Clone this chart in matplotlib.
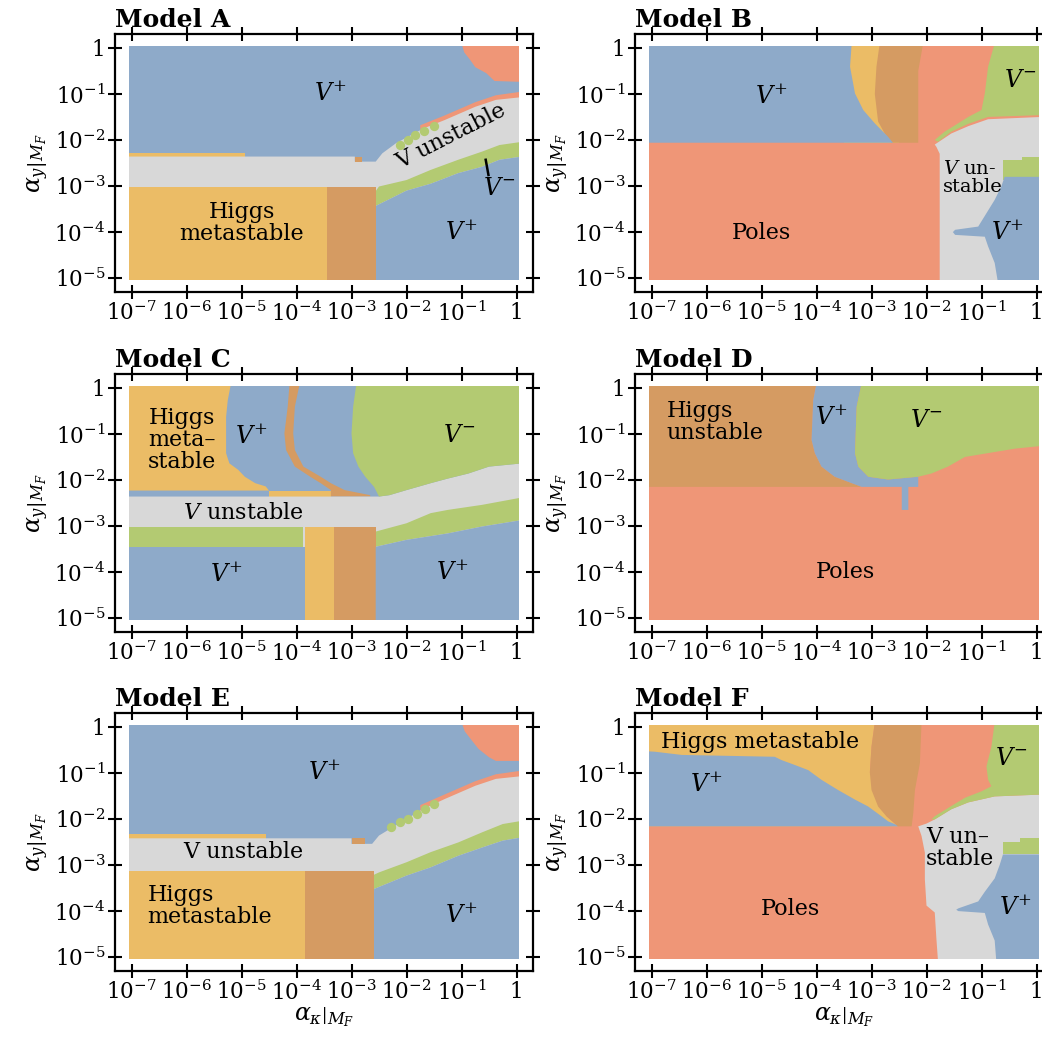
import numpy as np
import matplotlib.pyplot as plt
from matplotlib import ticker
from matplotlib.patches import Rectangle

plt.rcParams['font.family'] = 'DejaVu Serif'
plt.rcParams['mathtext.fontset'] = 'dejavuserif'

# phase colours
col = {
    'blue': '#8eaac9',
    'yellow': '#ebbc66',
    'brown': '#d59b62',
    'salmon': '#ef9677',
    'green': '#b3ca72',
    'grey': '#d8d8d8',
}

# region outlines, as (log10 alpha_kappa, log10 alpha_y)
FULL = [(-7.1, 0.1), (0.1, 0.1), (0.1, -5.1), (-7.1, -5.1)]

# ---- Model A
a_poles_top = [(-1.0, 0.1), (-0.95, -0.1), (-0.85, -0.25), (-0.75, -0.42), (-0.55, -0.55),
               (-0.4, -0.72), (0.1, -0.74), (0.1, 0.1)]
a_poles_strip = [(-1.75, -1.68), (-1.31, -1.47), (-0.75, -1.18), (-0.375, -1.03), (0.1, -0.95),
                 (0.1, -1.2), (-1.75, -1.9)]
a_higgs_strip = [(-7.1, -2.28), (-4.94, -2.28), (-4.94, -2.4), (-7.1, -2.4)]
a_unstable = [(-7.1, -2.36), (-2.94, -2.36), (-2.94, -2.47), (-2.56, -2.47), (-2.44, -2.29),
              (-2.19, -2.07), (-1.69, -1.75), (-1.31, -1.57), (-0.75, -1.28), (-0.375, -1.13),
              (0.1, -1.07), (0.1, -3.5), (-7.1, -3.5)]
a_brown_bit = [(-2.94, -2.36), (-2.81, -2.36), (-2.81, -2.47), (-2.94, -2.47)]
a_vminus = [(-2.59, -3.16), (-2.5, -3.01), (-2.0, -2.87), (-1.56, -2.65), (-1.06, -2.43),
            (-0.62, -2.25), (-0.31, -2.11), (0.1, -2.04), (0.1, -2.36), (-0.31, -2.43),
            (-0.62, -2.58), (-1.06, -2.72), (-1.56, -2.95), (-2.0, -3.1), (-2.59, -3.45)]
a_vplus_low = [(-2.59, -3.45), (-2.0, -3.1), (-1.56, -2.95), (-1.06, -2.72), (-0.62, -2.58),
               (-0.31, -2.43), (0.1, -2.36), (0.1, -5.1), (-2.56, -5.1)]
a_meta = [(-7.1, -3.03), (-3.44, -3.03), (-3.44, -5.1), (-7.1, -5.1)]
a_meta_dark = [(-3.44, -3.03), (-2.56, -3.03), (-2.56, -5.1), (-3.44, -5.1)]
a_dots_x = [-2.125, -1.97, -1.84, -1.69, -1.5]
a_dots_y = [-2.11, -2.0, -1.89, -1.8, -1.7]

# ---- Model B
b_meta = [(-3.5, 0.1), (-2.5, 0.1), (-2.5, -2.06), (-3.5, -2.06)]
b_meta_dark = [(-2.85, 0.1), (-2.06, 0.1), (-2.15, -0.5), (-2.15, -2.06), (-2.64, -2.06),
               (-2.76, -1.86), (-2.88, -1.6), (-2.94, -1.0), (-2.91, -0.41)]
b_vplus = [(-7.1, 0.1), (-3.36, 0.1), (-3.39, -0.41), (-3.30, -0.99), (-3.15, -1.35),
           (-2.94, -1.64), (-2.70, -1.93), (-2.61, -2.06), (-7.1, -2.06)]
b_unstable = [(-1.85, -2.1), (-1.55, -1.86), (-1.24, -1.7), (-0.88, -1.55), (0.1, -1.5),
              (0.1, -5.1), (-1.76, -5.1), (-1.76, -2.3), (-1.82, -2.15)]
b_vminus = [(-0.76, 0.1), (0.1, 0.1), (0.1, -1.46), (-0.88, -1.50), (-1.24, -1.65),
            (-1.55, -1.82), (-1.79, -2.04), (-1.85, -2.0), (-1.67, -1.82), (-1.48, -1.68),
            (-1.24, -1.50), (-1.0, -1.35), (-0.94, -0.99), (-0.88, -0.41)]
b_vminus_low = [(-0.61, -2.43), (-0.27, -2.43), (-0.27, -2.36), (0.1, -2.36), (0.1, -2.87),
                (-0.61, -2.87)]
b_vplus_low = [(-0.58, -2.80), (0.1, -2.80), (0.1, -5.1), (-0.70, -5.1), (-0.76, -4.67),
               (-0.88, -4.31), (-0.94, -4.10), (-1.48, -4.06), (-1.52, -4.0), (-1.48, -3.95),
               (-1.06, -3.88), (-0.91, -3.59), (-0.76, -3.30), (-0.64, -3.01)]

# ---- Model C
c_meta = [(-7.1, 0.1), (-5.19, 0.1), (-5.25, -0.27), (-5.28, -0.63), (-5.28, -1.42),
          (-5.22, -1.64), (-5.06, -1.78), (-4.94, -1.93), (-4.75, -2.07), (-4.56, -2.14),
          (-4.5, -2.23), (-7.1, -2.23)]
c_meta_strip = [(-4.5, -2.23), (-3.375, -2.23), (-3.375, -2.36), (-4.5, -2.36)]
c_meta_dark = [(-4.125, 0.1), (-4.16, -0.41), (-4.22, -0.99), (-4.19, -1.35), (-4.03, -1.71),
               (-3.75, -1.93), (-3.56, -2.07), (-3.375, -2.22), (-3.375, -2.36), (-2.66, -2.36),
               (-2.66, -2.33), (-3.125, -2.22), (-3.375, -2.07), (-3.56, -1.93),
               (-3.875, -1.71), (-4.03, -1.35), (-4.06, -0.99), (-4.03, -0.41), (-3.94, 0.1)]
c_unstable = [(-7.1, -2.36), (-2.5, -2.36), (-2.31, -2.33), (-2.0, -2.22), (-1.56, -2.07),
              (-1.25, -1.97), (-0.875, -1.86), (-0.5, -1.71), (0.1, -1.64), (0.1, -3.5),
              (-7.1, -3.5)]
c_vminus = [(-2.91, 0.1), (0.1, 0.1), (0.1, -1.64), (-0.5, -1.71), (-0.875, -1.86),
            (-1.25, -1.97), (-1.56, -2.07), (-2.0, -2.22), (-2.31, -2.33), (-2.5, -2.36),
            (-2.59, -2.15), (-2.75, -1.93), (-2.875, -1.71), (-2.97, -1.42), (-3.0, -0.99),
            (-2.97, -0.41)]
c_vminus_left = [(-7.1, -3.03), (-3.875, -3.03), (-3.875, -3.45), (-7.1, -3.45)]
c_vminus_right = [(-2.56, -3.12), (-2.0, -2.94), (-1.56, -2.72), (-1.25, -2.65),
                  (-0.625, -2.54), (-0.125, -2.43), (0.1, -2.38), (0.1, -2.87),
                  (-0.625, -3.01), (-1.25, -3.16), (-2.0, -3.30), (-2.56, -3.45)]
c_vplus_left = [(-7.1, -3.45), (-3.84, -3.45), (-3.84, -5.1), (-7.1, -5.1)]
c_meta_low = [(-3.84, -3.03), (-3.31, -3.03), (-3.31, -5.1), (-3.84, -5.1)]
c_meta_dark_low = [(-3.31, -3.03), (-2.56, -3.03), (-2.56, -5.1), (-3.31, -5.1)]
c_vplus_right = [(-2.56, -3.45), (-2.0, -3.30), (-1.25, -3.16), (-0.625, -3.01), (0.1, -2.87),
                 (0.1, -5.1), (-2.56, -5.1)]

# ---- Model D
d_higgs = [(-7.1, 0.1), (-4.0, 0.1), (-4.06, -0.27), (-4.09, -1.13), (-4.03, -1.42),
           (-3.91, -1.71), (-3.67, -1.93), (-3.36, -2.07), (-3.18, -2.15), (-7.1, -2.15)]
d_vplus = [(-4.0, 0.1), (-3.18, 0.1), (-3.27, -0.41), (-3.30, -1.42), (-3.24, -1.71),
           (-3.06, -1.93), (-2.70, -1.99), (-2.15, -1.93), (-2.15, -2.15), (-2.33, -2.15),
           (-2.33, -2.65), (-2.45, -2.65), (-2.45, -2.15), (-3.18, -2.15), (-3.36, -2.07),
           (-3.67, -1.93), (-3.91, -1.71), (-4.03, -1.42), (-4.09, -1.13), (-4.06, -0.27)]
d_vminus = [(-3.18, 0.1), (0.1, 0.1), (0.1, -1.26), (-0.39, -1.32), (-1.30, -1.50),
            (-1.61, -1.71), (-1.91, -1.86), (-2.15, -1.93), (-2.70, -1.99), (-3.06, -1.93),
            (-3.24, -1.71), (-3.30, -1.42), (-3.27, -0.41)]

# ---- Model E
e_poles_top = [(-1.0, 0.1), (-0.94, -0.1), (-0.81, -0.3), (-0.69, -0.48), (-0.5, -0.66),
               (-0.375, -0.74), (0.1, -0.74), (0.1, 0.1)]
e_poles_strip = [(-1.75, -1.7), (-1.31, -1.47), (-0.75, -1.18), (-0.375, -1.03), (0.1, -0.95),
                 (0.1, -1.2), (-1.75, -1.9)]
e_higgs_strip = [(-7.1, -2.33), (-4.56, -2.33), (-4.56, -2.45), (-7.1, -2.45)]
e_unstable = [(-7.1, -2.42), (-3.0, -2.42), (-3.0, -2.54), (-2.625, -2.54), (-2.5, -2.36),
              (-2.25, -2.18), (-1.69, -1.78), (-1.31, -1.57), (-0.75, -1.28), (-0.375, -1.13),
              (0.1, -1.07), (0.1, -3.6), (-7.1, -3.6)]
e_brown_bit = [(-3.0, -2.42), (-2.75, -2.42), (-2.75, -2.54), (-3.0, -2.54)]
e_vminus = [(-2.625, -3.23), (-2.5, -3.16), (-2.0, -2.94), (-1.56, -2.72), (-1.06, -2.51),
            (-0.625, -2.29), (-0.25, -2.11), (0.1, -2.04), (0.1, -2.40), (-0.25, -2.47),
            (-0.625, -2.62), (-1.06, -2.80), (-1.56, -3.05), (-2.0, -3.23), (-2.59, -3.52)]
e_vplus_low = [(-2.59, -3.52), (-2.0, -3.23), (-1.56, -3.05), (-1.06, -2.80), (-0.625, -2.62),
               (-0.25, -2.47), (0.1, -2.40), (0.1, -5.1), (-2.59, -5.1)]
e_meta = [(-7.1, -3.12), (-3.84, -3.12), (-3.84, -5.1), (-7.1, -5.1)]
e_meta_dark = [(-3.84, -3.12), (-2.59, -3.12), (-2.59, -5.1), (-3.84, -5.1)]
e_dots_x = [-2.28, -2.125, -1.97, -1.81, -1.66, -1.5]
e_dots_y = [-2.18, -2.07, -1.99, -1.89, -1.78, -1.68]

# ---- Model F
f_meta = [(-7.1, 0.1), (-2.94, 0.1), (-3.0, -0.43), (-3.03, -0.99), (-2.73, -1.94),
          (-2.52, -2.16), (-7.1, -2.16)]
f_vplus = [(-7.1, -0.53), (-6.94, -0.54), (-6.45, -0.61), (-5.61, -0.63), (-4.76, -0.65),
           (-4.64, -0.72), (-4.39, -0.83), (-4.15, -0.94), (-3.91, -1.15), (-3.61, -1.37),
           (-3.30, -1.58), (-3.06, -1.73), (-2.82, -1.94), (-2.70, -2.05), (-2.52, -2.14),
           (-2.52, -2.16), (-7.1, -2.16)]
f_meta_dark = [(-2.94, 0.1), (-2.09, 0.1), (-2.12, -0.79), (-2.21, -1.37), (-2.24, -1.87),
               (-2.27, -2.16), (-2.52, -2.16), (-2.73, -1.94), (-2.88, -1.73), (-3.0, -1.37),
               (-3.03, -0.99), (-3.0, -0.43)]
f_unstable = [(-2.15, -2.16), (-2.09, -2.37), (-2.03, -2.73), (-2.03, -3.31), (-2.0, -3.88),
              (-1.85, -4.03), (-1.82, -4.6), (-1.79, -5.1), (0.1, -5.1), (0.1, -1.47),
              (-0.76, -1.51), (-1.24, -1.64), (-1.55, -1.79), (-1.85, -2.01), (-2.0, -2.1)]
f_vminus = [(-0.76, 0.1), (0.1, 0.1), (0.1, -1.47), (-0.76, -1.51), (-1.24, -1.64),
            (-1.55, -1.79), (-1.85, -2.01), (-1.91, -2.01), (-1.85, -1.94), (-1.55, -1.72),
            (-1.30, -1.54), (-1.0, -1.40), (-0.82, -1.29), (-0.88, -1.15), (-0.91, -0.86),
            (-0.82, -0.43)]
f_vminus_low = [(-0.61, -2.5), (-0.3, -2.5), (-0.3, -2.42), (0.1, -2.42), (0.1, -2.77),
                (-0.61, -2.77)]
f_vplus_low = [(-0.61, -2.77), (0.1, -2.77), (0.1, -5.1), (-0.73, -5.1), (-0.76, -4.64),
               (-0.88, -4.29), (-0.94, -4.04), (-1.42, -4.0), (-1.46, -3.97), (-1.42, -3.94),
               (-1.06, -3.79), (-0.94, -3.58), (-0.76, -3.29), (-0.67, -3.0)]

# painting order per panel
layers = {
    'A': [('blue', FULL), ('salmon', a_poles_top), ('salmon', a_poles_strip),
          ('yellow', a_higgs_strip), ('grey', a_unstable), ('brown', a_brown_bit),
          ('green', a_vminus), ('blue', a_vplus_low), ('yellow', a_meta),
          ('brown', a_meta_dark)],
    'B': [('salmon', FULL), ('yellow', b_meta), ('brown', b_meta_dark), ('blue', b_vplus),
          ('grey', b_unstable), ('green', b_vminus), ('green', b_vminus_low),
          ('blue', b_vplus_low)],
    'C': [('blue', FULL), ('yellow', c_meta), ('yellow', c_meta_strip), ('brown', c_meta_dark),
          ('grey', c_unstable), ('green', c_vminus), ('green', c_vminus_left),
          ('green', c_vminus_right), ('blue', c_vplus_left), ('yellow', c_meta_low),
          ('brown', c_meta_dark_low), ('blue', c_vplus_right)],
    'D': [('salmon', FULL), ('brown', d_higgs), ('blue', d_vplus), ('green', d_vminus)],
    'E': [('blue', FULL), ('salmon', e_poles_top), ('salmon', e_poles_strip),
          ('yellow', e_higgs_strip), ('grey', e_unstable), ('brown', e_brown_bit),
          ('green', e_vminus), ('blue', e_vplus_low), ('yellow', e_meta),
          ('brown', e_meta_dark)],
    'F': [('salmon', FULL), ('yellow', f_meta), ('blue', f_vplus), ('brown', f_meta_dark),
          ('grey', f_unstable), ('green', f_vminus), ('green', f_vminus_low),
          ('blue', f_vplus_low)],
}
dots = {'A': (a_dots_x, a_dots_y), 'E': (e_dots_x, e_dots_y)}

# text labels: (text, log x, log y, size, rotation, multialign)
labels = {
    'A': [(r'$V^{+}$', -3.375, -0.99, 17, 0, 'center'),
          ('V unstable', -1.19, -1.93, 16, 27, 'center'),
          ('Higgs\nmetastable', -5.0, -3.81, 16, 0, 'center'),
          (r'$V^{-}$', -0.31, -3.05, 17, 0, 'center'),
          (r'$V^{+}$', -1.0, -4.02, 17, 0, 'center')],
    'B': [(r'$V^{+}$', -4.82, -1.06, 17, 0, 'center'),
          ('Poles', -5.0, -4.02, 16, 0, 'center'),
          ('$V$ un-\nstable', -1.15, -2.83, 14, 0, 'left'),
          (r'$V^{-}$', -0.3, -0.7, 17, 0, 'center'),
          (r'$V^{+}$', -0.52, -4.02, 17, 0, 'center')],
    'C': [('Higgs\nmeta–\nstable', -6.09, -1.13, 16, 0, 'center'),
          (r'$V^{+}$', -4.81, -1.06, 17, 0, 'center'),
          (r'$V^{-}$', -1.03, -1.03, 17, 0, 'center'),
          ('$V$ unstable', -4.97, -2.71, 16, 0, 'center'),
          (r'$V^{+}$', -5.28, -4.06, 17, 0, 'center'),
          (r'$V^{+}$', -1.16, -4.02, 17, 0, 'center')],
    'D': [('Higgs\nunstable', -5.85, -0.74, 16, 0, 'left'),
          (r'$V^{+}$', -3.73, -0.66, 17, 0, 'center'),
          (r'$V^{-}$', -2.0, -0.70, 17, 0, 'center'),
          ('Poles', -3.48, -3.99, 16, 0, 'center')],
    'E': [(r'$V^{+}$', -3.5, -0.99, 17, 0, 'center'),
          ('V unstable', -4.97, -2.71, 16, 0, 'center'),
          ('Higgs\nmetastable', -5.58, -3.88, 16, 0, 'left'),
          (r'$V^{+}$', -1.0, -4.1, 17, 0, 'center')],
    'F': [('Higgs metastable', -5.03, -0.32, 16, 0, 'center'),
          (r'$V^{+}$', -6.0, -1.26, 17, 0, 'center'),
          ('Poles', -4.48, -3.96, 16, 0, 'center'),
          ('V un–\nstable', -1.39, -2.63, 16, 0, 'left'),
          (r'$V^{-}$', -0.45, -0.68, 17, 0, 'center'),
          (r'$V^{+}$', -0.39, -3.94, 17, 0, 'center')],
}

models = ['A', 'B', 'C', 'D', 'E', 'F']


def fmt(v, pos):
    e = int(round(np.log10(v)))
    return '1' if e == 0 else r'$10^{%d}$' % e


fig = plt.figure(figsize=(10.42, 10.46), dpi=100)
W, H = 1042.0, 1046.0
lefts = [115 / W, 635 / W]
bottoms = [1 - 292 / H, 1 - 632 / H, 1 - 971 / H]
aw, ah = 418 / W, 258 / H

for i, m in enumerate(models):
    r, c = divmod(i, 2)
    ax = fig.add_axes([lefts[c], bottoms[r], aw, ah])
    ax.set_xscale('log')
    ax.set_yscale('log')
    ax.set_xlim(10 ** -7.3, 10 ** 0.3)
    ax.set_ylim(10 ** -5.3, 10 ** 0.3)

    # data extent of the scan
    box = Rectangle((10 ** -7.05, 10 ** -5.05), 10 ** 0.05 - 10 ** -7.05,
                    10 ** 0.05 - 10 ** -5.05, transform=ax.transData)
    for name, poly in layers[m]:
        p = np.array(poly)
        for patch in ax.fill(10 ** p[:, 0], 10 ** p[:, 1], color=col[name], lw=0):
            patch.set_clip_path(box)

    if m in dots:
        dx, dy = dots[m]
        ax.scatter(10 ** np.array(dx), 10 ** np.array(dy), s=45, color=col['green'],
                   lw=0, zorder=3)
    if m == 'A':
        ax.plot([10 ** -0.56, 10 ** -0.51], [10 ** -2.43, 10 ** -2.76], color='k', lw=1.8)

    for txt, lx, ly, fs, rot, ma in labels[m]:
        ax.text(10 ** lx, 10 ** ly, txt, fontsize=fs, rotation=rot, ha='center',
                va='center', multialignment=ma, linespacing=1.0,
                rotation_mode='anchor', zorder=4)

    ax.xaxis.set_major_locator(ticker.FixedLocator(10.0 ** np.arange(-7, 1)))
    ax.yaxis.set_major_locator(ticker.FixedLocator(10.0 ** np.arange(-5, 1)))
    ax.xaxis.set_minor_locator(ticker.NullLocator())
    ax.yaxis.set_minor_locator(ticker.NullLocator())
    ax.xaxis.set_major_formatter(ticker.FuncFormatter(fmt))
    ax.yaxis.set_major_formatter(ticker.FuncFormatter(fmt))
    ax.tick_params(which='both', direction='inout', length=10, width=1.5,
                   top=True, right=True, labelsize=15.5, pad=2)
    for s in ax.spines.values():
        s.set_linewidth(1.6)

    ax.set_title('Model ' + m, loc='left', fontsize=18, fontweight='bold', pad=5)
    ax.set_ylabel(r'$\left.\alpha_y\right|_{M_F}$', fontsize=17, labelpad=2)
    if r == 2:
        ax.set_xlabel(r'$\left.\alpha_\kappa\right|_{M_F}$', fontsize=17, labelpad=0)

fig.savefig('out.png', dpi=100)
